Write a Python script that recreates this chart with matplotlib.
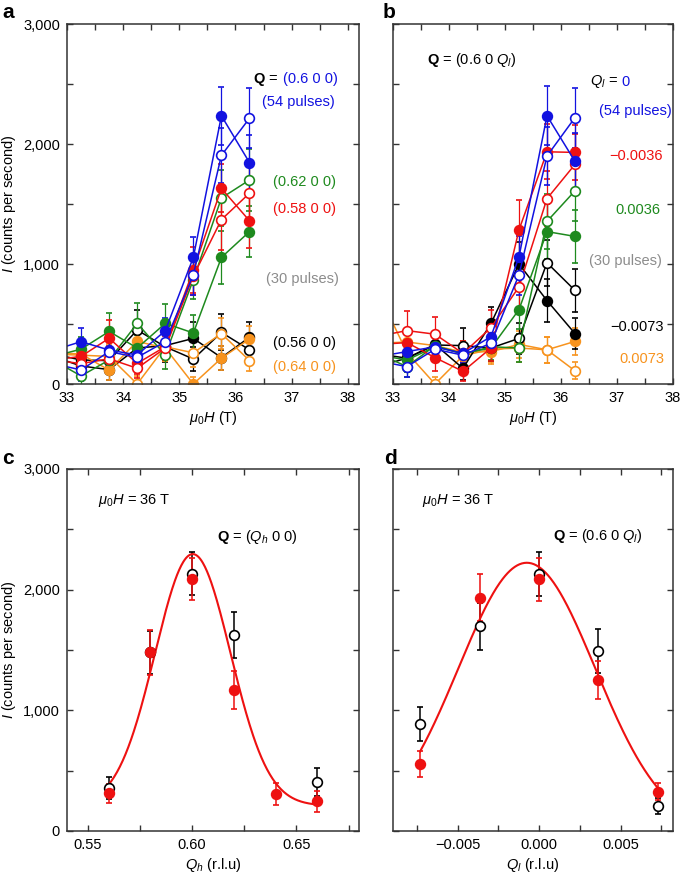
import numpy as np
import matplotlib
matplotlib.use("Agg")
import matplotlib.pyplot as plt
from matplotlib.ticker import MultipleLocator, FixedLocator, FixedFormatter

plt.rcParams['font.family'] = ['Liberation Sans', 'DejaVu Sans']
plt.rcParams['mathtext.fontset'] = 'custom'
plt.rcParams['mathtext.rm'] = 'Liberation Sans'
plt.rcParams['mathtext.it'] = 'Liberation Sans:italic'
plt.rcParams['mathtext.bf'] = 'Liberation Sans:bold'
plt.rcParams['font.size'] = 10.5

BLUE = '#1212e0'
RED = '#ee1111'
GREEN = '#1e8a1e'
ORANGE = '#f7931e'
BLACK = '#000000'
GREY = '#8c8c8c'

# --- panel a / b : barridos en campo ---
campo = [32.75, 33.25, 33.75, 34.25, 34.75, 35.25, 35.75, 36.25]

# panel a, Q = (Qh 0 0)
a_064_f = [260, 250, 115, 355, 300, 0, 215, 375]
a_064_f_err = [80, 90, 80, 100, 110, 60, 100, 110]
a_064_o = [250, 240, 230, 0, 310, 260, 420, 195]
a_064_o_err = [80, 90, 100, 70, 120, 120, 130, 90]
a_056_f = [230, 150, 120, 300, 320, 380, 220, 390]
a_056_f_err = [80, 100, 90, 170, 120, 140, 100, 130]
a_056_o = [250, 200, 195, 450, 310, 208, 430, 285]
a_056_o_err = [80, 90, 110, 170, 130, 100, 150, 120]
a_062_f = [230, 290, 438, 300, 505, 425, 1055, 1270]
a_062_f_err = [90, 100, 150, 110, 160, 150, 220, 210]
a_062_o = [200, 67, 200, 505, 242, 870, 1550, 1700]
a_062_o_err = [90, 100, 110, 170, 120, 160, 230, 260]
a_058_f = [200, 230, 381, 172, 311, 950, 1630, 1360]
a_058_f_err = [80, 90, 150, 90, 110, 190, 200, 230]
a_058_o = [200, 170, 210, 131, 300, 900, 1370, 1590]
a_058_o_err = [80, 90, 110, 80, 100, 160, 250, 230]
a_060_f = [280, 353, 283, 242, 444, 1055, 2235, 1845]
a_060_f_err = [80, 110, 90, 80, 110, 170, 240, 230]
a_060_o = [170, 117, 270, 222, 353, 910, 1905, 2215]
a_060_o_err = [80, 90, 90, 80, 100, 170, 230, 250]

# panel b, Q = (0.6 0 Ql)
b_p0073_f = [340, 350, 320, 265, 270, 330, 285, 355]
b_p0073_f_err = [90, 100, 100, 90, 100, 110, 110, 110]
b_p0073_o = [750, 260, 0, 235, 290, 300, 285, 110]
b_p0073_o_err = [100, 90, 60, 100, 110, 120, 110, 70]
b_m0073_f = [150, 215, 330, 130, 505, 1000, 695, 420]
b_m0073_f_err = [80, 100, 110, 100, 140, 180, 180, 130]
b_m0073_o = [250, 215, 325, 320, 300, 380, 1010, 780]
b_m0073_o_err = [80, 90, 110, 145, 110, 130, 190, 180]
b_p0036_f = [240, 200, 310, 255, 300, 620, 1270, 1230]
b_p0036_f_err = [90, 100, 110, 90, 110, 160, 230, 220]
b_p0036_o = [250, 145, 320, 250, 310, 300, 1355, 1610]
b_p0036_o_err = [90, 90, 110, 90, 110, 120, 230, 250]
b_m0036_f = [330, 345, 220, 105, 300, 1285, 1935, 1930]
b_m0036_f_err = [100, 110, 110, 80, 110, 250, 230, 230]
b_m0036_o = [400, 445, 415, 255, 470, 810, 1545, 1830]
b_m0036_o_err = [110, 160, 140, 100, 150, 200, 230, 250]
b_0_f = [230, 270, 310, 255, 395, 1060, 2235, 1855]
b_0_f_err = [80, 90, 90, 80, 110, 170, 245, 240]
b_0_o = [190, 145, 290, 240, 340, 910, 1900, 2220]
b_0_o_err = [80, 90, 90, 80, 100, 170, 240, 250]

# --- panel c : barrido en Qh a 36 T ---
qh = [0.56, 0.58, 0.60, 0.62, 0.64, 0.66]
c_rojo = [312, 1480, 2088, 1168, 304, 248]
c_rojo_err = [80, 185, 174, 157, 90, 87]
qh_neg = [0.56, 0.58, 0.60, 0.62, 0.66]
c_negro = [359, 1480, 2132, 1624, 403]
c_negro_err = [91, 180, 177, 188, 116]
# ajuste gaussiano (centro, sigma, amplitud, fondo)
c_fit = (0.6003, 0.0181, 2085, 210)

# --- panel d : barrido en Ql a 36 T ---
ql = [-0.0073, -0.0036, 0.0, 0.0036, 0.0073]
d_rojo = [552, 1933, 2085, 1251, 326]
d_rojo_err = [107, 196, 177, 160, 72]
d_negro = [886, 1696, 2129, 1488, 207]
d_negro_err = [142, 193, 185, 182, 65]
d_fit = (-0.00075, 0.0042, 2223, 0)


def serie(ax, x, y, err, color, relleno):
    ax.errorbar(x, y, yerr=err, fmt='-o', color=color,
                mfc=color if relleno else 'white', mec=color,
                ms=7, mew=1.2, lw=1.1, elinewidth=0.9,
                capsize=2.5, capthick=0.9)


def estilo(ax):
    for s in ax.spines.values():
        s.set_linewidth(1.1)
        s.set_color('#333333')
    ax.tick_params(which='both', direction='in', top=True, right=True,
                   length=4, width=1, color='#333333', pad=5, labelsize=10.5)
    ax.set_ylim(0, 3000)
    ax.yaxis.set_major_locator(FixedLocator([0, 1000, 2000, 3000]))
    ax.yaxis.set_minor_locator(MultipleLocator(500))


def gauss(x, p):
    c, s, a, b = p
    return b + a * np.exp(-(x - c) ** 2 / (2 * s ** 2))


fig = plt.figure(figsize=(6.85, 8.76), dpi=100)
ax_a = fig.add_axes([67/685, 1-384/876, 292/685, 360/876])
ax_b = fig.add_axes([393/685, 1-384/876, 280/685, 360/876])
ax_c = fig.add_axes([67/685, 1-831/876, 292/685, 362/876])
ax_d = fig.add_axes([393/685, 1-831/876, 280/685, 362/876])

ylabels = ['0', '1,000', '2,000', '3,000']

# panel a
for y, e, col, f in [(a_056_f, a_056_f_err, BLACK, True), (a_056_o, a_056_o_err, BLACK, False),
                     (a_064_f, a_064_f_err, ORANGE, True), (a_064_o, a_064_o_err, ORANGE, False),
                     (a_062_f, a_062_f_err, GREEN, True), (a_062_o, a_062_o_err, GREEN, False),
                     (a_058_f, a_058_f_err, RED, True), (a_058_o, a_058_o_err, RED, False),
                     (a_060_f, a_060_f_err, BLUE, True), (a_060_o, a_060_o_err, BLUE, False)]:
    serie(ax_a, campo, y, e, col, f)

# panel b
for y, e, col, f in [(b_p0073_f, b_p0073_f_err, ORANGE, True), (b_p0073_o, b_p0073_o_err, ORANGE, False),
                     (b_m0073_f, b_m0073_f_err, BLACK, True), (b_m0073_o, b_m0073_o_err, BLACK, False),
                     (b_p0036_f, b_p0036_f_err, GREEN, True), (b_p0036_o, b_p0036_o_err, GREEN, False),
                     (b_m0036_f, b_m0036_f_err, RED, True), (b_m0036_o, b_m0036_o_err, RED, False),
                     (b_0_f, b_0_f_err, BLUE, True), (b_0_o, b_0_o_err, BLUE, False)]:
    serie(ax_b, campo, y, e, col, f)

for ax in (ax_a, ax_b):
    estilo(ax)
    ax.xaxis.set_major_locator(MultipleLocator(1))
    ax.xaxis.set_minor_locator(MultipleLocator(0.5))
    ax.set_xlabel(r'$\mu_0H$ (T)', labelpad=3)
ax_a.set_xlim(33, 38.2)
ax_b.set_xlim(33, 38)

ax_a.set_yticklabels(ylabels)
ax_b.set_yticklabels([])
ax_a.set_ylabel(r'$I$ (counts per second)')

# textos panel a
t = ax_a.text(37.82, 2540, '(0.6 0 0)', color=BLUE, ha='right', va='center')
ax_a.annotate(r'$\mathbf{Q}$ =', xy=(0, 0.5), xycoords=t, xytext=(-3, 0),
              textcoords='offset points', ha='right', va='center')
ax_a.text(37.77, 2353, '(54 pulses)', color=BLUE, ha='right', va='center')
ax_a.text(37.79, 1686, '(0.62 0 0)', color=GREEN, ha='right', va='center')
ax_a.text(37.79, 1456, '(0.58 0 0)', color=RED, ha='right', va='center')
ax_a.text(37.84, 872, '(30 pulses)', color=GREY, ha='right', va='center')
ax_a.text(37.79, 344, '(0.56 0 0)', color=BLACK, ha='right', va='center')
ax_a.text(37.79, 144, '(0.64 0 0)', color=ORANGE, ha='right', va='center')

# textos panel b
ax_b.text(33.61, 2700, r'$\mathbf{Q}$ = (0.6 0 $Q_l$)', ha='left', va='center')
t = ax_b.text(37.22, 2519, '0', color=BLUE, ha='right', va='center')
ax_b.annotate(r'$Q_l$ =', xy=(0, 0.5), xycoords=t, xytext=(-2.5, 0),
              textcoords='offset points', ha='right', va='center')
ax_b.text(37.97, 2275, '(54 pulses)', color=BLUE, ha='right', va='center')
ax_b.text(37.81, 1903, '\u22120.0036', color=RED, ha='right', va='center')
ax_b.text(37.77, 1450, '0.0036', color=GREEN, ha='right', va='center')
ax_b.text(37.80, 1025, '(30 pulses)', color=GREY, ha='right', va='center')
ax_b.text(37.84, 478, '\u22120.0073', color=BLACK, ha='right', va='center')
ax_b.text(37.84, 208, '0.0073', color=ORANGE, ha='right', va='center')

# panel c
xc = np.linspace(qh[0], qh[-1], 300)
ax_c.errorbar(qh_neg, c_negro, yerr=c_negro_err, fmt='o', color=BLACK, mfc='white',
              mec=BLACK, ms=7, mew=1.2, elinewidth=1.1, capsize=2.5, capthick=1.1)
ax_c.errorbar(qh, c_rojo, yerr=c_rojo_err, fmt='o', color=RED, mfc=RED, mec=RED,
              ms=7, mew=1.2, elinewidth=1.1, capsize=2.5, capthick=1.1)
ax_c.plot(xc, gauss(xc, c_fit), color=RED, lw=1.5)
estilo(ax_c)
ax_c.set_xlim(0.54, 0.68)
ax_c.xaxis.set_major_locator(FixedLocator([0.55, 0.60, 0.65]))
ax_c.xaxis.set_major_formatter(FixedFormatter(['0.55', '0.60', '0.65']))
ax_c.xaxis.set_minor_locator(FixedLocator([0.575, 0.625, 0.675]))
ax_c.set_yticklabels(ylabels)
ax_c.set_ylabel(r'$I$ (counts per second)')
ax_c.set_xlabel(r'$Q_h$ (r.l.u)', labelpad=3)
ax_c.text(0.5550, 2742, r'$\mu_0H$ = 36 T', ha='left', va='center')
ax_c.text(0.6118, 2438, r'$\mathbf{Q}$ = ($Q_h$ 0 0)', ha='left', va='center')

# panel d
xd = np.linspace(ql[0], ql[-1], 300)
ax_d.errorbar(ql, d_negro, yerr=d_negro_err, fmt='o', color=BLACK, mfc='white',
              mec=BLACK, ms=7, mew=1.2, elinewidth=1.1, capsize=2.5, capthick=1.1)
ax_d.errorbar(ql, d_rojo, yerr=d_rojo_err, fmt='o', color=RED, mfc=RED, mec=RED,
              ms=7, mew=1.2, elinewidth=1.1, capsize=2.5, capthick=1.1)
ax_d.plot(xd, gauss(xd, d_fit), color=RED, lw=1.5)
estilo(ax_d)
ax_d.set_xlim(-0.00896, 0.00822)
ax_d.xaxis.set_major_locator(FixedLocator([-0.005, 0.0, 0.005]))
ax_d.xaxis.set_major_formatter(FixedFormatter(['\u22120.005', '0.000', '0.005']))
ax_d.xaxis.set_minor_locator(FixedLocator([-0.0075, -0.0025, 0.0025, 0.0075]))
ax_d.set_yticklabels([])
ax_d.set_xlabel(r'$Q_l$ (r.l.u)', labelpad=3)
ax_d.text(-0.00719, 2742, r'$\mu_0H$ = 36 T', ha='left', va='center')
ax_d.text(0.00083, 2444, r'$\mathbf{Q}$ = (0.6 0 $Q_l$)', ha='left', va='center')

# letras de panel
for x, y, s in [(2, 13, 'a'), (383, 13, 'b'), (2, 458, 'c'), (384, 458, 'd')]:
    fig.text(x/685, 1-y/876, s, fontsize=15, fontweight='bold', ha='left', va='center')

fig.savefig('out.png', dpi=100)
